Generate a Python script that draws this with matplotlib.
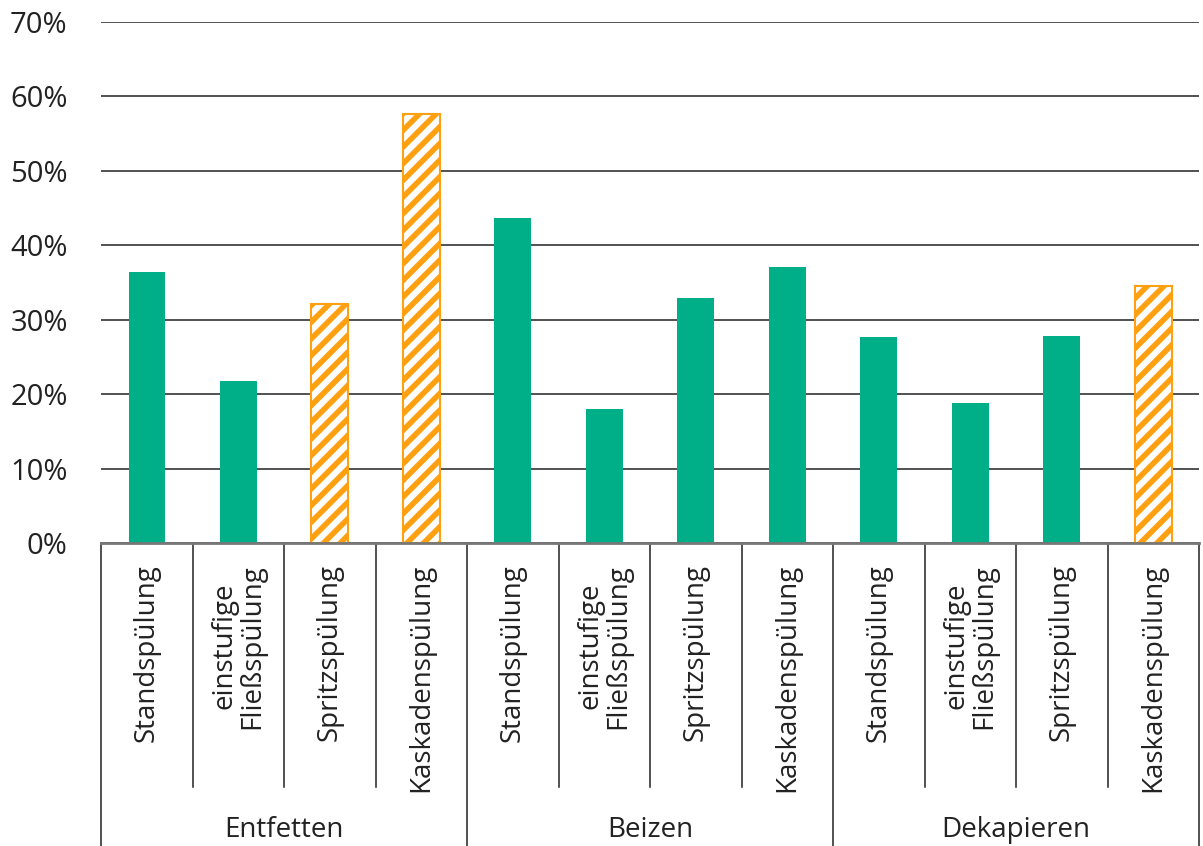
import numpy as np
import matplotlib.pyplot as plt
import matplotlib.transforms as mtransforms

plt.rcParams['font.family'] = ['Open Sans', 'DejaVu Sans']
plt.rcParams['hatch.linewidth'] = 4
plt.rcParams['hatch.color'] = '#ffa010'

# Daten
gruppen = ["Entfetten", "Beizen", "Dekapieren"]
verfahren = ["Standspülung", "einstufige\nFließspülung", "Spritzspülung", "Kaskadenspülung"]
werte = [36.4, 21.8, 32.1, 57.7,
         43.7, 18.0, 32.9, 37.1,
         27.7, 18.8, 27.8, 34.5]
schraffiert = [False, False, True, True,
               False, False, False, False,
               False, False, False, True]

gruen = "#00af87"
orange = "#ffa010"

fig = plt.figure(figsize=(12.03, 8.46), dpi=100)
ax = fig.add_axes([0.084, 0.3582, 0.9127, 0.6158])

x = np.arange(len(werte))
for xi, w, s in zip(x, werte, schraffiert):
    if s:
        ax.bar(xi, w, width=0.4, color="white", edgecolor=orange,
               hatch="//", linewidth=1.5, zorder=3)
    else:
        ax.bar(xi, w, width=0.4, color=gruen, zorder=3)

ax.set_xlim(-0.5, len(werte) - 0.5)
ax.set_ylim(0, 70)
ax.set_yticks(np.arange(0, 71, 10))
ax.set_yticklabels([f"{v}%" for v in range(0, 71, 10)], fontsize=21, color="#222222")
ax.tick_params(axis="y", length=0, pad=24)
ax.tick_params(axis="x", length=0, labelbottom=False)
ax.grid(axis="y", color="#222222", linewidth=1.1, zorder=0)
for sp in ["top", "right", "left"]:
    ax.spines[sp].set_visible(False)
ax.spines["bottom"].set_color("#777777")
ax.spines["bottom"].set_linewidth(2)
ax.spines["bottom"].set_zorder(4)

trans = mtransforms.blended_transform_factory(ax.transData, ax.transAxes)

# Trennlinien unter der Achse
for k in range(len(werte) + 1):
    xs = k - 0.5
    unten = -0.582 if k % 4 == 0 else -0.468
    ax.plot([xs, xs], [0, unten], transform=trans, color="#222222",
            linewidth=1.1, clip_on=False)

# Beschriftungen
for i in range(len(werte)):
    ax.text(i, -0.04, verfahren[i % 4], transform=trans, rotation=90,
            ha="center", va="top", fontsize=20, color="#222222",
            multialignment="center", linespacing=1.0)

for g, name in enumerate(gruppen):
    ax.text(g * 4 + 1.5, -0.551, name, transform=trans, ha="center",
            va="center", fontsize=20, color="#222222")

fig.savefig("out.png", dpi=100)
